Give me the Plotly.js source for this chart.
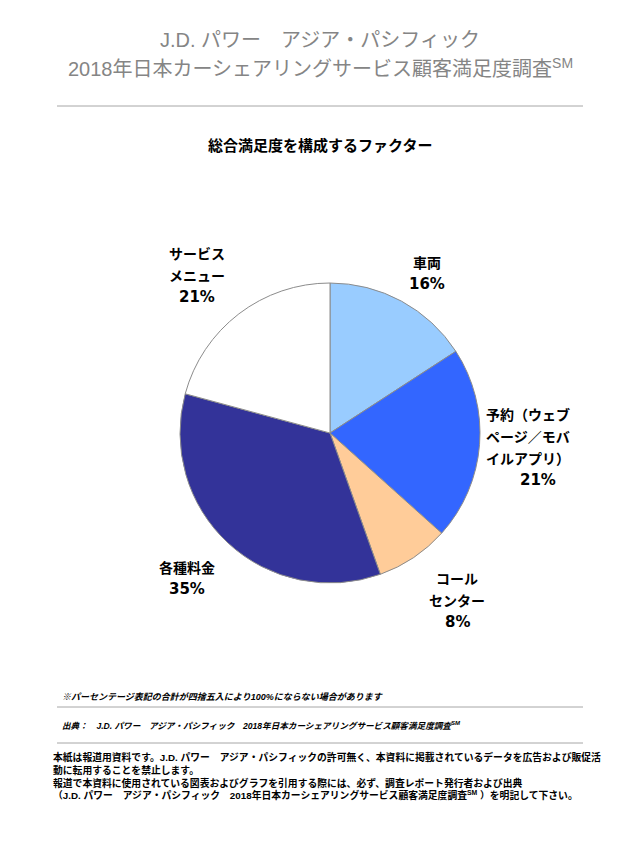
<!DOCTYPE html>
<html>
<head>
<meta charset="utf-8">
<script src="https://cdn.plot.ly/plotly-3.0.1.min.js"></script>
<style>
  html, body { margin: 0; padding: 0; background: #fff; }
  #chart { width: 640px; height: 853px; }
</style>
</head>
<body>
<div id="chart"></div>
<script>
// factor shares of overall satisfaction, clockwise from 12 o'clock
var factors = ["車両", "予約（ウェブページ／モバイルアプリ）", "コールセンター", "各種料金", "サービスメニュー"];
var factorLines = [["車両"], ["予約（ウェブ", "ページ／モバ", "イルアプリ）"], ["コール", "センター"], ["各種料金"], ["サービス", "メニュー"]];
var shares = [16, 21, 8, 35, 21];
var sliceColours = ["#99ccff", "#3366ff", "#ffcc99", "#333399", "#ffffff"];

var titleLines = ["J.D. パワー　アジア・パシフィック", "2018年日本カーシェアリングサービス顧客満足度調査<sup>SM</sup>"];
var chartTitle = "総合満足度を構成するファクター";
var noteText = "※パーセンテージ表記の合計が四捨五入により100%にならない場合があります";
var sourceText = "出典：　J.D. パワー　アジア・パシフィック　2018年日本カーシェアリングサービス顧客満足度調査<sup>SM</sup>";
var noticeLines = [
  "本紙は報道用資料です。J.D. パワー　アジア・パシフィックの許可無く、本資料に掲載されているデータを広告および販促活",
  "動に転用することを禁止します。",
  "報道で本資料に使用されている図表およびグラフを引用する際には、必ず、調査レポート発行者および出典",
  "（J.D. パワー　アジア・パシフィック　2018年日本カーシェアリングサービス顧客満足度調査<sup>SM</sup> ）を明記して下さい。"
];

(function () {
  "use strict";

  var W = 640, H = 853;
  var JP = "Liberation Sans, Noto Sans CJK JP, sans-serif";
  function px(x) { return x / W; }
  function py(y) { return 1 - y / H; }

  // where each slice label block starts (centre x, first line y), in page pixels
  var labelAt = [[427, 262], [528, 414], [457, 578], [187, 567], [197, 253]];
  var lineGap = 22;

  var annotations = [];
  function note(text, x, y, opts) {
    annotations.push({
      text: text, x: px(x), y: py(y), xref: "paper", yref: "paper",
      showarrow: false, xanchor: opts.anchor || "center", yanchor: "middle",
      font: { family: opts.family || JP, size: opts.size, color: opts.color || "#000",
              weight: opts.weight || "normal", style: opts.style || "normal" }
    });
  }

  note(titleLines[0], 320, 40, { size: 20, color: "#858585" });
  note(titleLines[1], 320, 68, { size: 20, color: "#858585" });
  note(chartTitle, 320, 144, { size: 15, weight: "bold", family: "Noto Sans CJK JP" });

  factorLines.forEach(function (lines, i) {
    var x = labelAt[i][0], y = labelAt[i][1];
    lines.forEach(function (ln, j) {
      note(ln, x, y + j * lineGap, { size: 14, weight: "bold", family: "Noto Sans CJK JP" });
    });
    note(shares[i] + "%", x + (i === 1 ? 10 : 0), y + lines.length * lineGap,
         { size: 15, weight: "bold", family: "DejaVu Sans" });
  });

  note(noteText, 60, 697, { size: 9, anchor: "left", style: "italic", weight: "bold" });
  note(sourceText, 60, 725, { size: 8.6, anchor: "left", style: "italic", weight: "bold" });
  noticeLines.forEach(function (ln, i) {
    note(ln, 51, 757 + i * 12.8, { size: 9.8, anchor: "left", weight: "bold" });
  });

  function rule(y) {
    return { type: "line", xref: "paper", yref: "paper", x0: px(57), x1: px(583), y0: py(y), y1: py(y),
             line: { color: "#a6a6a6", width: 1 } };
  }

  var trace = {
    type: "pie",
    labels: factors,
    values: shares,
    sort: false,
    direction: "clockwise",
    rotation: 0,
    textinfo: "none",
    textposition: "none",
    hoverinfo: "label+percent",
    marker: { colors: sliceColours, line: { color: "#8c8c8c", width: 1 } },
    domain: { x: [px(180), px(480)], y: [py(583), py(283)] },
    showlegend: false
  };

  var layout = {
    width: W, height: H,
    margin: { l: 0, r: 0, t: 0, b: 0 },
    paper_bgcolor: "#ffffff",
    font: { family: JP },
    showlegend: false,
    annotations: annotations,
    shapes: [rule(106), rule(707), rule(743)]
  };

  Plotly.newPlot("chart", [trace], layout, { displayModeBar: false, staticPlot: true });
})();
</script>
</body>
</html>
